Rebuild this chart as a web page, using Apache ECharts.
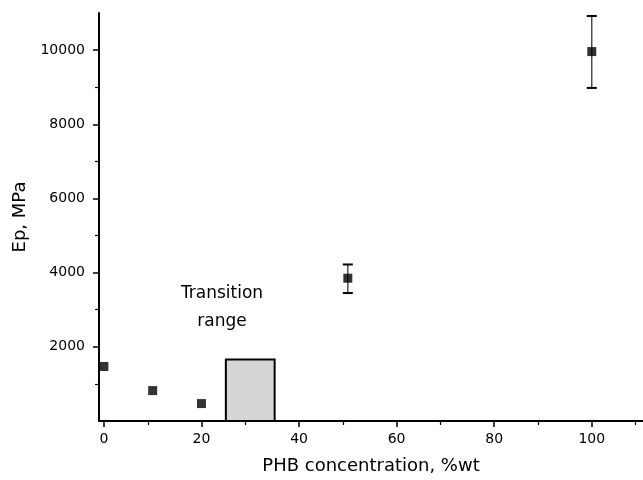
<!DOCTYPE html>
<html>
<head>
<meta charset="utf-8">
<script src="https://cdn.jsdelivr.net/npm/echarts@6/dist/echarts.min.js"></script>
<style>
  html, body { margin: 0; padding: 0; background: #fff; }
  #chart { width: 643px; height: 480px; }
</style>
</head>
<body>
<div id="chart"></div>
<script>
// PHB concentration (%wt) and Ep (MPa)
const phb = [0, 10, 20, 50, 100]
const ep = [1470, 820, 470, 3850, 9960]
const epLow = [1390, 820, 470, 3450, 8980]
const epHigh = [1560, 820, 470, 4220, 10920]

// transition range box
const transX = [25, 35]
const transTop = 1660

const xTicks = [0, 20, 40, 60, 80, 100]
const yTicks = [2000, 4000, 6000, 8000, 10000]

const font = '"DejaVu Sans", Arial, sans-serif'

const chart = echarts.init(document.getElementById('chart'))

const points = phb.map((x, i) => [x, ep[i]])
const bars = phb.map((x, i) => [x, epLow[i], epHigh[i]])

chart.setOption({
  animation: false,
  grid: { left: 99, right: 0, top: 13, bottom: 59 },
  xAxis: {
    type: 'value',
    min: -1,
    max: 110.5,
    interval: 20,
    name: 'PHB concentration, %wt',
    nameLocation: 'middle',
    nameGap: 36,
    nameTextStyle: { fontFamily: font, fontSize: 18, color: '#000' },
    axisLine: { onZero: false, lineStyle: { color: '#000', width: 2 } },
    axisTick: { length: 6, lineStyle: { color: '#000', width: 1.5 }, customValues: xTicks },
    minorTick: { show: true, splitNumber: 2, length: 4, lineStyle: { color: '#000', width: 1.2 } },
    axisLabel: { fontFamily: font, fontSize: 14, color: '#000', margin: 11, customValues: xTicks },
    splitLine: { show: false }
  },
  yAxis: {
    type: 'value',
    min: 0,
    max: 11000,
    interval: 2000,
    name: 'Ep, MPa',
    nameLocation: 'middle',
    nameGap: 64,
    nameTextStyle: { fontFamily: font, fontSize: 18, color: '#000' },
    axisLine: { onZero: false, lineStyle: { color: '#000', width: 2 } },
    axisTick: { length: 6, lineStyle: { color: '#000', width: 1.5 }, customValues: yTicks },
    minorTick: { show: true, splitNumber: 2, length: 4, lineStyle: { color: '#000', width: 1.2 } },
    axisLabel: {
      fontFamily: font, fontSize: 14, color: '#000', margin: 14, customValues: yTicks,
      formatter: function (v) { return String(v) }
    },
    splitLine: { show: false }
  },
  series: [
    {
      type: 'custom',
      name: 'transition',
      data: [[transX[0], transX[1], transTop]],
      renderItem: function (params, api) {
        const p0 = api.coord([api.value(0), 0])
        const p1 = api.coord([api.value(1), api.value(2)])
        return {
          type: 'rect',
          shape: { x: p0[0], y: p1[1], width: p1[0] - p0[0], height: p0[1] - p1[1] },
          style: { fill: '#d6d6d6', stroke: '#000', lineWidth: 2 }
        }
      },
      z: 1
    },
    {
      type: 'custom',
      name: 'error',
      data: bars,
      renderItem: function (params, api) {
        if (api.value(2) - api.value(1) < 300) return
        const lo = api.coord([api.value(0), api.value(1)])
        const hi = api.coord([api.value(0), api.value(2)])
        const w = 5
        return {
          type: 'group',
          children: [
            { type: 'line', shape: { x1: lo[0], y1: lo[1], x2: hi[0], y2: hi[1] }, style: { stroke: '#333', lineWidth: 1.3 } },
            { type: 'line', shape: { x1: lo[0] - w, y1: lo[1], x2: lo[0] + w, y2: lo[1] }, style: { stroke: '#000', lineWidth: 2 } },
            { type: 'line', shape: { x1: hi[0] - w, y1: hi[1], x2: hi[0] + w, y2: hi[1] }, style: { stroke: '#000', lineWidth: 2 } }
          ]
        }
      },
      z: 2
    },
    {
      type: 'scatter',
      name: 'Ep',
      data: points,
      symbol: 'rect',
      symbolSize: 9,
      itemStyle: { color: '#000' },
      z: 3
    }
  ],
  graphic: [
    {
      type: 'text',
      x: 222,
      y: 294,
      style: { text: 'Transition', font: '17px ' + font, fill: '#000', align: 'center', verticalAlign: 'middle' }
    },
    {
      type: 'text',
      x: 222,
      y: 322,
      style: { text: 'range', font: '17px ' + font, fill: '#000', align: 'center', verticalAlign: 'middle' }
    }
  ]
})
</script>
</body>
</html>
